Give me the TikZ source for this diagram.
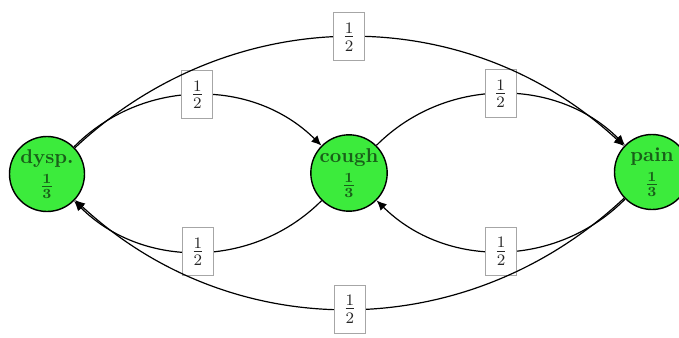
\documentclass[tikz,border=0pt]{standalone}
\usetikzlibrary{arrows.meta}
\definecolor{nodefill}{RGB}{60,235,60}
\definecolor{nodetext}{RGB}{25,95,25}
\begin{document}
\begin{tikzpicture}[x=0.5pt,y=-0.5pt,
 state/.style={circle,draw=black,line width=0.7pt,fill=nodefill,minimum size=37.5pt,inner sep=0pt,align=center,font=\bfseries,text=nodetext},
 prob/.style={draw=gray!70,fill=white,line width=0.5pt,minimum width=15.5pt,minimum height=24pt,inner sep=1pt,text=black!85,font=\large},
 link/.style={line width=0.6pt,-{Latex[length=5pt,width=4.5pt]}}]
\useasboundingbox (0,0) rectangle (679,337);
\node[state] (d) at (47,174) {dysp.\\[2pt]$\mathbf{\frac{1}{3}}$};
\node[state] (c) at (349,173) {cough\\[2pt]$\mathbf{\frac{1}{3}}$};
\node[state] (p) at (652,172) {pain\\[2pt]$\mathbf{\frac{1}{3}}$};
\draw[link] (d) to[bend left=45] node[prob]{$\frac{1}{2}$} (c);
\draw[link] (c) to[bend left=45] node[prob]{$\frac{1}{2}$} (d);
\draw[link] (c) to[bend left=45] node[prob]{$\frac{1}{2}$} (p);
\draw[link] (p) to[bend left=45] node[prob]{$\frac{1}{2}$} (c);
\draw[link] (d) to[bend left=43] node[prob]{$\frac{1}{2}$} (p);
\draw[link] (p) to[bend left=43] node[prob]{$\frac{1}{2}$} (d);
\end{tikzpicture}
\end{document}
